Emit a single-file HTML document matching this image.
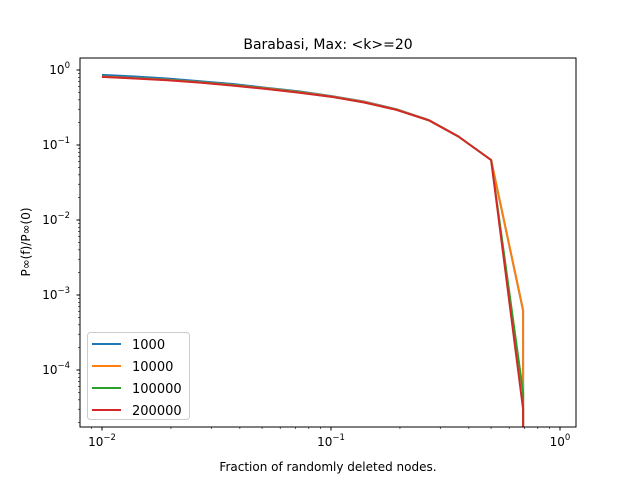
<!DOCTYPE html>
<html><head><meta charset="utf-8"><style>
html,body{margin:0;padding:0;background:#fff;width:640px;height:480px;overflow:hidden}
svg{display:block;font-family:"DejaVu Sans","Liberation Sans",sans-serif}
</style></head><body>
<svg id="chart" width="640" height="480" xmlns="http://www.w3.org/2000/svg">
<rect width="640" height="480" fill="#fff"/>
<text x="328" y="49" font-size="14" text-anchor="middle">Barabasi, Max: &lt;k&gt;=20</text>
<text x="328" y="471" font-size="12" text-anchor="middle">Fraction of randomly deleted nodes.</text>
<text transform="translate(30,242) rotate(-90)" font-size="12" text-anchor="middle">P∞(f)/P∞(0)</text>
<defs><clipPath id="clip"><rect x="80" y="58" width="496" height="369"/></clipPath></defs>
<g id="ticks"></g>
<g id="series" clip-path="url(#clip)"></g>
<rect x="80" y="58" width="496" height="369" fill="none" stroke="#000" stroke-width="1"/>
<g id="legend"></g>
</svg>
<script>
const fractions=[0.01,0.0139,0.0193,0.0268,0.0373,0.0518,0.072,0.1,0.139,0.193,0.268,0.36,0.5,0.69,0.69];
const seriesNames=["1000","10000","100000","200000"];
const s1000=[0.86,0.82,0.77,0.71,0.65,0.58,0.52,0.45,0.38,0.30,0.215,0.13,0.063,6.2e-4,1e-5];
const s10000=[0.82,0.78,0.74,0.69,0.63,0.57,0.51,0.445,0.375,0.297,0.214,0.13,0.063,6.3e-4,1e-5];
const s100000=[0.815,0.775,0.735,0.685,0.625,0.565,0.505,0.44,0.37,0.295,0.213,0.13,0.063,5e-5,1e-5];
const s200000=[0.81,0.77,0.73,0.68,0.62,0.56,0.50,0.44,0.37,0.295,0.213,0.13,0.063,3e-5,1e-5];
const colors=["#1f77b4","#ff7f0e","#2ca02c","#d62728"];
const xTickExps=[-2,-1,0];
const yTickExps=[0,-1,-2,-3,-4];
const NS="http://www.w3.org/2000/svg";
function xs(v){return 331+229*(Math.log10(v)+1);}
function ys(v){return 70-75*Math.log10(v);}
function mk(tag,attrs,parent){const e=document.createElementNS(NS,tag);for(const k in attrs)e.setAttribute(k,attrs[k]);parent.appendChild(e);return e;}
const tk=document.getElementById('ticks');
xTickExps.forEach(e=>{const x=xs(Math.pow(10,e));
 const l=mk('line',{x1:x,x2:x,y1:427,y2:430.5,stroke:'#000'},tk);
 
 
 const t=mk('text',{x:x,y:446,'font-size':12,'text-anchor':'middle'},tk);
 
 
 t.innerHTML='10<tspan font-size="8.5" dy="-6">'+(e<0?'−'+(-e):e)+'</tspan>';
 for(let m=2;m<10;m++){const xm=xs(m*Math.pow(10,e));if(xm>80&&xm<576)mk('line',{x1:xm,x2:xm,y1:427,y2:429,stroke:'#000','stroke-width':0.6},tk);}
});
[2,3,4,5,6,7,8,9].forEach(m=>{const xm=xs(m*0.001);if(xm>80)mk('line',{x1:xm,x2:xm,y1:427,y2:429,stroke:'#000','stroke-width':0.6},tk);});
yTickExps.forEach(e=>{const y=ys(Math.pow(10,e));
 const l=mk('line',{x1:76.5,x2:80,y1:y,y2:y,stroke:'#000'},tk);
 
 
 const t=mk('text',{x:70,y:y+4,'font-size':12,'text-anchor':'end'},tk);
 
 
 t.innerHTML='10<tspan font-size="8.5" dy="-6">'+(e<0?'−'+(-e):e)+'</tspan>';
});
for(let e=-5;e<=0;e++)for(let m=2;m<10;m++){const y=ys(m*Math.pow(10,e));if(y>58&&y<427)mk('line',{x1:78,x2:80,y1:y,y2:y,stroke:'#000','stroke-width':0.6},tk);}
const sg=document.getElementById('series');
[s1000,s10000,s100000,s200000].forEach((d,i)=>{
 const pts=fractions.map((f,j)=>xs(f).toFixed(1)+','+ys(d[j]).toFixed(1)).join(' ');
 const p=mk('polyline',{points:pts,fill:'none',stroke:colors[i],'stroke-width':2,'stroke-linejoin':'round'},sg);
 
 
});
const lg=document.getElementById('legend');
mk('rect',{x:87.5,y:332.5,width:102,height:87,rx:3,fill:'#fff','fill-opacity':0.8,stroke:'#ccc'},lg);
seriesNames.forEach((n,i)=>{const y=344+i*22;
 mk('line',{x1:92,x2:121,y1:y,y2:y,stroke:colors[i],'stroke-width':2},lg);
 const t=mk('text',{x:132,y:y+5,'font-size':13},lg);
 
 
 t.textContent=n;
});
</script>
</body></html>
